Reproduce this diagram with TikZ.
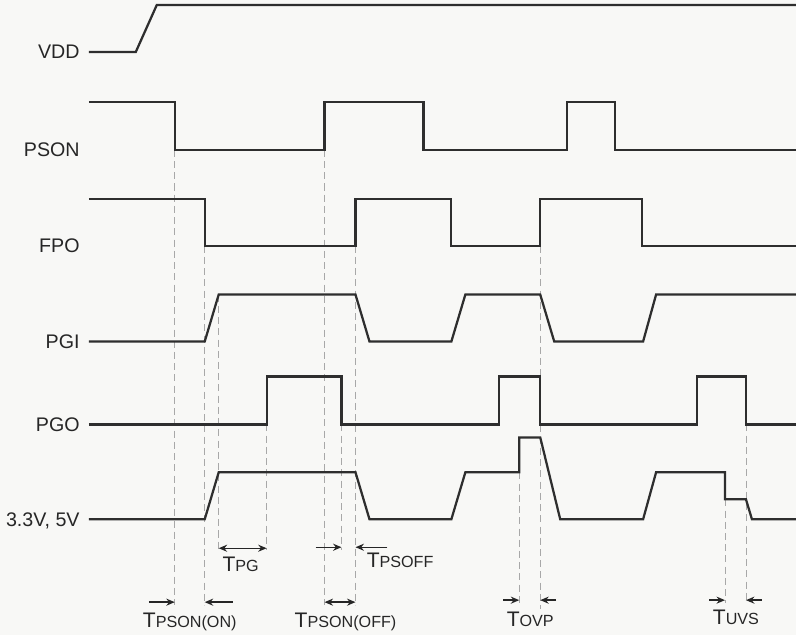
\documentclass[tikz,border=0pt]{standalone}
\usepackage{fontspec}
\setmainfont{Liberation Sans}
\usetikzlibrary{arrows.meta}
\definecolor{wavecol}{HTML}{2E2E2E}
\definecolor{guidecol}{HTML}{A8A8A8}
\definecolor{paper}{HTML}{F8F8F6}
\newcommand{\tname}[1]{{\fontsize{15}{15}\selectfont T}{\fontsize{11.5}{12}\selectfont #1}}

\begin{document}
\begin{tikzpicture}[x=0.025cm, y=-0.025cm,
    wave/.style={draw=wavecol, line width=1.6pt, line join=miter},
    guide/.style={draw=guidecol, line width=0.6pt, dash pattern=on 5pt off 3pt},
    tarrow/.style={draw=black!85, line width=1pt, -{Stealth[length=6pt,width=5pt]}},
    tboth/.style={tarrow, {Stealth[length=6pt,width=5pt]}-{Stealth[length=6pt,width=5pt]}},
    sig/.style={anchor=base east, inner sep=0pt, font=\fontsize{14}{14}\selectfont, text=black!85},
    tlab/.style={anchor=base, inner sep=0pt, text=black!85}]
        \fill[paper] (0,0) rectangle (797,636);
        \node[sig] (vdd) at (80,59) {VDD};
        \node[sig] (pson) at (80,157) {PSON};
        \node[sig] (fpo) at (80,253) {FPO};
        \node[sig] (pgi) at (80,349) {PGI};
        \node[sig] (pgo) at (80,432) {PGO};
        \node[sig] (rails) at (80,527) {3.3V, 5V};
        \draw[guide] (175,150) -- (175,606);
        \draw[guide] (205,246) -- (205,606);
        \draw[guide] (219,295) -- (219,551);
        \draw[guide] (267,425) -- (267,551);
        \draw[guide] (325,150) -- (325,606);
        \draw[guide] (342,425) -- (342,551);
        \draw[guide] (356,246) -- (356,606);
        \draw[guide] (520,473) -- (520,604);
        \draw[guide] (541,246) -- (541,610);
        \draw[guide] (726,500) -- (726,604);
        \draw[guide] (747,425) -- (747,604);
        \draw[wave] (89,52) -- (136,52) -- (157,5) -- (797,5);
        \draw[wave] (89,102) -| (175,150) -| (325,102) -| (424,150) -| (568,102) -| (616,150) -- (797,150);
        \draw[wave] (89,199) -| (205,246) -| (356,199) -| (452,246) -| (541,199) -| (643,246) -- (797,246);
        \draw[wave] (89,342) -- (205,342) -- (219,295) -- (356,295) -- (370,342) -- (452,342) -- (466,295)
            -- (541,295) -- (555,342) -- (644,342) -- (657,295) -- (797,295);
        \draw[wave] (89,425) -| (267,377) -| (342,425) -| (500,377) -| (541,425) -| (698,377) -| (747,425) -- (797,425);
        \draw[wave] (89,520) -- (205,520) -- (219,473) -- (356,473) -- (370,520) -- (452,520) -- (466,473)
            -- (520,473) -- (520,438) -- (541,438) -- (561,520) -- (644,520) -- (657,473) -- (726,473)
            -- (726,500) -- (747,500) -- (753,520) -- (797,520);
        \draw[tarrow] (149,603) -- (175,603);
        \draw[tarrow] (233,603) -- (205,603);
        \draw[tboth] (219,549) -- (267,549);
        \draw[tarrow] (316,548) -- (342,548);
        \draw[tarrow] (388,548) -- (356,548);
        \draw[tboth] (325,603) -- (356,603);
        \draw[tarrow] (504,601) -- (520,601);
        \draw[tarrow] (557,601) -- (541,601);
        \draw[tarrow] (710,601) -- (726,601);
        \draw[tarrow] (763,601) -- (747,601);
        \node[tlab] (tpsonon) at (190,628) {\tname{PSON(ON)}};
        \node[tlab] (tpg) at (241,572) {\tname{PG}};
        \node[tlab, anchor=base west] (tpsoff) at (367,568) {\tname{PSOFF}};
        \node[tlab] (tpsonoff) at (346,628) {\tname{PSON(OFF)}};
        \node[tlab] (tovp) at (531,627) {\tname{OVP}};
        \node[tlab] (tuvs) at (737,625) {\tname{UVS}};
    \end{tikzpicture}
\end{document}
